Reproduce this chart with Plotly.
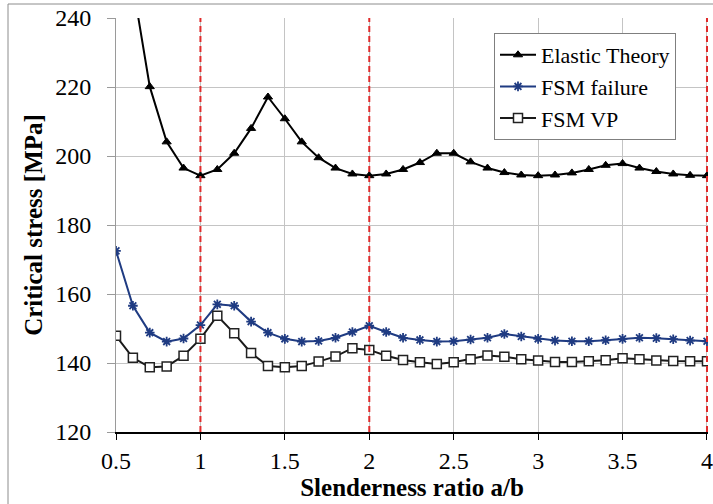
import plotly.graph_objects as go

# Slenderness ratio a/b
ratio = [0.5, 0.6, 0.7, 0.8, 0.9, 1.0, 1.1, 1.2, 1.3, 1.4, 1.5, 1.6, 1.7, 1.8, 1.9, 2.0,
         2.1, 2.2, 2.3, 2.4, 2.5, 2.6, 2.7, 2.8, 2.9, 3.0, 3.1, 3.2, 3.3, 3.4, 3.5, 3.6,
         3.7, 3.8, 3.9, 4.0]

elastic_theory = [303.6, 249.6, 220.1, 204.1, 196.5, 194.3, 196.1, 200.8, 208.0, 217.1,
                  210.8, 204.1, 199.5, 196.5, 194.8, 194.3, 194.8, 196.1, 198.1, 200.8,
                  200.8, 198.3, 196.5, 195.2, 194.5, 194.3, 194.5, 195.1, 196.1, 197.3,
                  197.8, 196.5, 195.5, 194.8, 194.4, 194.3]

fsm_failure = [172.5, 156.6, 148.8, 146.2, 147.1, 151.0, 157.0, 156.6, 152.0, 148.8,
               147.0, 146.2, 146.4, 147.3, 149.0, 150.8, 149.0, 147.3, 146.7, 146.2,
               146.3, 146.8, 147.3, 148.4, 147.7, 147.0, 146.5, 146.3, 146.3, 146.6,
               147.0, 147.3, 147.2, 146.9, 146.5, 146.3]

fsm_vp = [147.9, 141.5, 138.8, 139.0, 142.1, 147.0, 153.7, 148.6, 142.9, 139.1,
          138.8, 139.1, 140.4, 141.9, 144.3, 143.8, 142.1, 140.9, 140.2, 139.7,
          140.2, 141.1, 142.2, 141.8, 141.1, 140.7, 140.3, 140.3, 140.5, 140.8,
          141.4, 141.1, 140.7, 140.6, 140.5, 140.5]

x_ticks = [0.5, 1, 1.5, 2, 2.5, 3, 3.5, 4]
x_tick_labels = ["0.5", "1", "1.5", "2", "2.5", "3", "3.5", "4"]
y_ticks = [120, 140, 160, 180, 200, 220, 240]
y_tick_labels = ["120", "140", "160", "180", "200", "220", "240"]
mode_lines = [1, 2, 4]

FONT = "Liberation Serif, Times New Roman, serif"
NAVY = "#1f3b82"

fig = go.Figure()
fig.add_trace(go.Scatter(
    x=ratio, y=elastic_theory, name="Elastic Theory", mode="lines+markers",
    line=dict(color="black", width=2),
    marker=dict(symbol="triangle-up", size=8, color="black", line=dict(color="black", width=1)),
))
fig.add_trace(go.Scatter(
    x=ratio, y=fsm_failure, name="FSM failure", mode="lines+markers",
    line=dict(color=NAVY, width=2),
    marker=dict(symbol="asterisk-open", size=8, color=NAVY, line=dict(color=NAVY, width=1.8)),
))
fig.add_trace(go.Scatter(
    x=ratio, y=fsm_vp, name="FSM VP", mode="lines+markers",
    line=dict(color="#1a1a1a", width=2),
    marker=dict(symbol="square", size=9, color="white", line=dict(color="#222222", width=1.5)),
))

for xv in mode_lines:
    fig.add_shape(type="line", xref="x", yref="paper", x0=xv, x1=xv, y0=0, y1=1,
                  line=dict(color="#e02a2a", width=2, dash="6px,4px"), layer="above")

# outer chart-area border (left and top edges visible)
L, R, T, B = 116, 5, 18, 72
W, H = 713, 504
pw, ph = W - L - R, H - T - B
fig.add_shape(type="line", xref="paper", yref="paper",
              x0=(8 - L) / pw, x1=(8 - L) / pw, y0=-(B + 10) / ph, y1=1 + (T - 4) / ph,
              line=dict(color="#8c8c8c", width=1))
fig.add_shape(type="line", xref="paper", yref="paper",
              x0=(8 - L) / pw, x1=1 + (R + 5) / pw, y0=1 + (T - 4) / ph, y1=1 + (T - 4) / ph,
              line=dict(color="#8c8c8c", width=1))

fig.update_layout(
    width=W, height=H,
    margin=dict(l=L, r=R, t=T, b=B, autoexpand=False),
    paper_bgcolor="white", plot_bgcolor="white",
    font=dict(family=FONT, color="black", size=24),
    showlegend=True,
    legend=dict(
        x=(494 - L) / pw, y=1 - (33 - T) / ph, xanchor="left", yanchor="top",
        bgcolor="white", bordercolor="#7f7f7f", borderwidth=1,
        font=dict(family=FONT, size=22, color="black"),
        tracegroupgap=0, itemwidth=36,
    ),
    xaxis=dict(
        range=[0.5, 4.006], tickvals=x_ticks, ticktext=x_tick_labels,
        showgrid=True, gridcolor="#c4c4c4", gridwidth=1,
        showline=True, linecolor="black", linewidth=1.5,
        ticks="outside", ticklen=6, tickcolor="black",
        tickfont=dict(family=FONT, size=24), ticklabeloverflow="allow",
        zeroline=False, automargin=False,
        title=dict(text="<b>Slenderness ratio a/b</b>", font=dict(family=FONT, size=25), standoff=6),
    ),
    yaxis=dict(
        range=[120, 240], tickvals=y_ticks, ticktext=y_tick_labels,
        showgrid=True, gridcolor="#c4c4c4", gridwidth=1,
        showline=True, linecolor="#9a9a9a", linewidth=1,
        ticks="outside", ticklen=8, tickcolor="#9a9a9a",
        tickfont=dict(family=FONT, size=24),
        ticklabelstandoff=11,
        zeroline=False, automargin=False,
        title=dict(text="<b>Critical stress [MPa]</b>", font=dict(family=FONT, size=25), standoff=5),
    ),
)

fig.write_html("out.html", config={"displayModeBar": False},
               post_script="document.body.style.margin='0';")
